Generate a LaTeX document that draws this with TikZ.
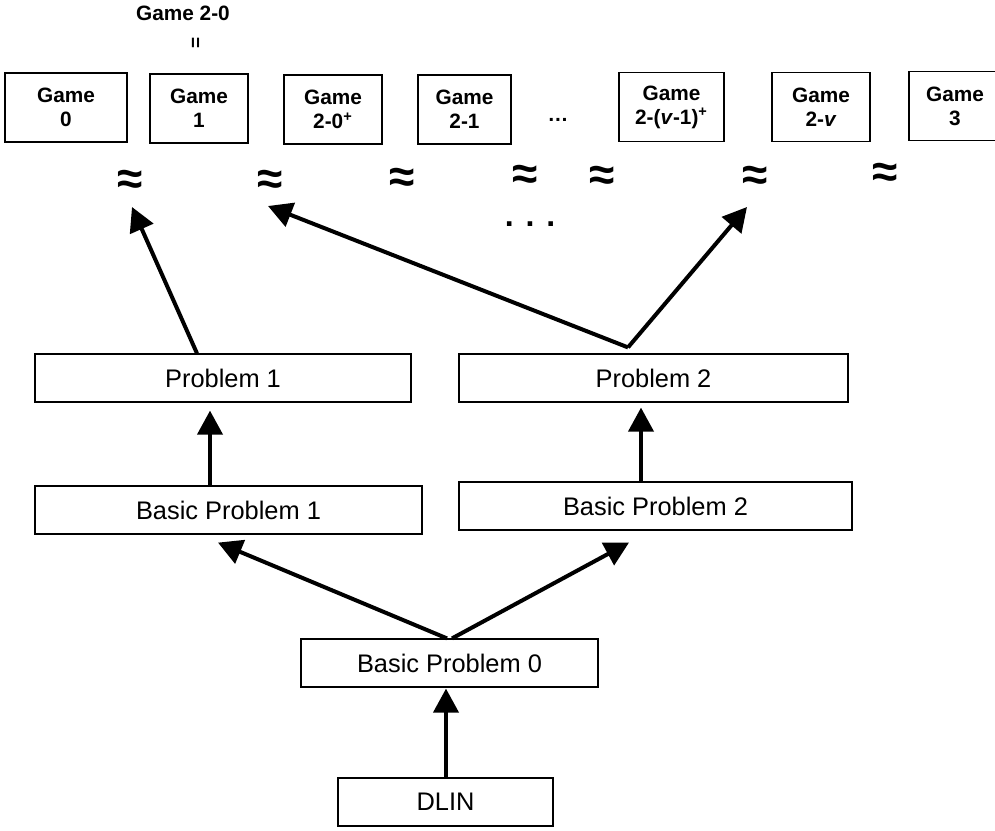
\documentclass[tikz,border=0pt]{standalone}
\usepackage{fontspec}
\setmainfont{Liberation Sans}
\usetikzlibrary{arrows.meta}
\usetikzlibrary{calc}
\tikzset{
    game/.style={
        draw,
        line width=0.6pt,
        align=center,
        inner sep=0pt,
        minimum height=34.5pt,
        font=\fontsize{10.4}{12}\bfseries
    },
    prob/.style={
        draw,
        line width=0.6pt,
        inner sep=0pt,
        minimum height=24pt,
        font=\fontsize{12.7}{15}\selectfont
    },
    approx/.style={
        font=\fontsize{23}{25}\bfseries
    },
    every edge/.append style={
        draw,
        -{Triangle[length=12pt,width=12.5pt]},
        line width=2pt
    }
}
\begin{document}
\begin{tikzpicture}[x=0.5pt, y=-0.5pt]
                \useasboundingbox (0,0) rectangle (995,830);
                \clip (0,0) rectangle (995,830);
                \node[font=\fontsize{10.4}{12}\bfseries] (top) at (183,13) {Game 2-0};
                \node[rotate=90, font=\fontsize{9.5}{10}\bfseries] (eq) at (197,43) {=};
                \node[game, minimum width=61pt] (g0) at (66,107.5) {Game\\0};
                \node[game, minimum width=49pt] (g1) at (199,108.5) {Game\\1};
                \node[game, minimum width=49pt] (g20) at (333,109.5) {Game\\2-0\textsuperscript{+}};
                \node[game, minimum width=46.5pt] (g21) at (464.5,109.5) {Game\\2-1};
                \node[font=\fontsize{10.4}{12}\bfseries] (dots) at (558,120) {…};
                \node[game, minimum width=52.5pt] (g2v1) at (671.5,107) {Game\\2-(\textit{v}-1)\textsuperscript{+}};
                \node[game, minimum width=49pt] (g2v) at (821,107) {Game\\2-\textit{v}};
                \node[game, minimum width=46pt] (g3) at (955,106) {Game\\3};
                \foreach \x/\y [count=\i from 0] in {130/182,270/182,402/180,525/177,602/178,755/178,885/175}
                    \node[approx] (a\i) at (\x,\y) {≈};
                \node[font=\fontsize{16}{18}\bfseries] (vdots) at (530,224) {. . .};
                \node[prob, minimum width=188pt] (p1) at (223,378) {Problem 1};
                \node[prob, minimum width=194.5pt] (p2) at (653.5,378) {Problem 2};
                \node[prob, minimum width=193.5pt] (bp1) at (228.5,510) {Basic Problem 1};
                \node[prob, minimum width=196.5pt] (bp2) at (655.5,506) {Basic Problem 2};
                \node[prob, minimum width=148.5pt] (bp0) at (449.5,663) {Basic Problem 0};
                \node[prob, minimum width=107.5pt] (dlin) at (445.5,802) {DLIN};
                \draw ($(p1.north)+(-26,0)$) edge ($(a0)+(2,25)$);
                \draw ($(p2.north)+(-25.5,-6)$) edge ($(a1)+(-2,24)$)
                    edge ($(a5)+(-8,29)$);
                \draw ($(bp1.north)+(-18.5,0)$) edge ($(p1.south)+(-13,8)$);
                \draw ($(bp2.north)+(-14.5,0)$) edge ($(p2.south)+(-12.5,5)$);
                \draw ($(bp0.north)+(-2.5,0)$) edge ($(bp1.south)+(-10.5,8)$);
                \draw ($(bp0.north)+(2.5,0)$) edge ($(bp2.south)+(-26.5,12)$);
                \draw ($(dlin.north)+(0.5,0)$) edge ($(bp0.south)+(-3.5,1)$);
            \end{tikzpicture}
\end{document}
